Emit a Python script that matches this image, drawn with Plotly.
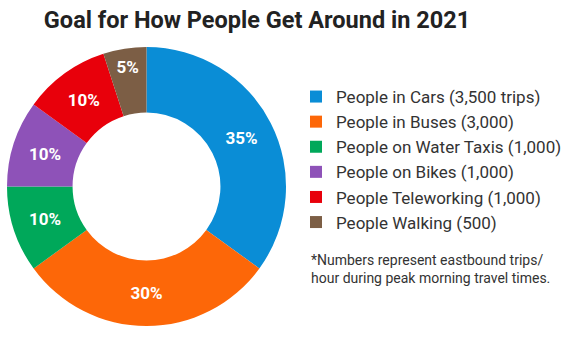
import plotly.graph_objects as go

labels = [
    "People in Cars (3,500 trips)",
    "People in Buses (3,000)",
    "People on Water Taxis (1,000)",
    "People on Bikes (1,000)",
    "People Teleworking (1,000)",
    "People Walking (500)",
]
trips = [3500, 3000, 1000, 1000, 1000, 500]
colors = ["#0a8dd6", "#fd6708", "#00a85a", "#8e52b8", "#e8000b", "#7c5e45"]

title_text = "Goal for How People Get Around in 2021"
footnote = "*Numbers represent eastbound trips/<br>hour during peak morning travel times."

W, H = 576, 338
FONT = "Roboto"

fig = go.Figure(
    go.Pie(
        labels=labels,
        values=trips,
        sort=False,
        direction="clockwise",
        rotation=0,
        hole=0.53,
        marker=dict(colors=colors, line=dict(width=0)),
        texttemplate="%{percent:.0%}",
        textposition="inside",
        insidetextorientation="horizontal",
        textfont=dict(family=FONT, size=17, color="white", weight="bold"),
        domain=dict(x=[7 / W, 286 / W], y=[1 - 327 / H, 1 - 46 / H]),
        hoverinfo="label+percent",
    )
)

fig.update_layout(
    width=W,
    height=H,
    margin=dict(l=0, r=0, t=0, b=0),
    paper_bgcolor="white",
    plot_bgcolor="white",
    font=dict(family=FONT, color="#333333"),
    title=dict(
        text=title_text,
        x=257 / W,
        xanchor="center",
        y=1 - 20 / H,
        yanchor="middle",
        font=dict(family=FONT, size=23.5, color="#222222", weight="bold"),
    ),
    showlegend=True,
    legend=dict(
        x=296 / W,
        xanchor="left",
        y=1 - 79 / H,
        yanchor="top",
        font=dict(family=FONT, size=17, color="#333333"),
        bgcolor="rgba(0,0,0,0)",
        traceorder="normal",
    ),
    annotations=[
        dict(
            text=footnote,
            x=309 / W,
            xanchor="left",
            xref="paper",
            y=1 - 250 / H,
            yanchor="top",
            yref="paper",
            showarrow=False,
            align="left",
            font=dict(family=FONT, size=14, color="#333333"),
        )
    ],
)

fig.write_html("out.html")
